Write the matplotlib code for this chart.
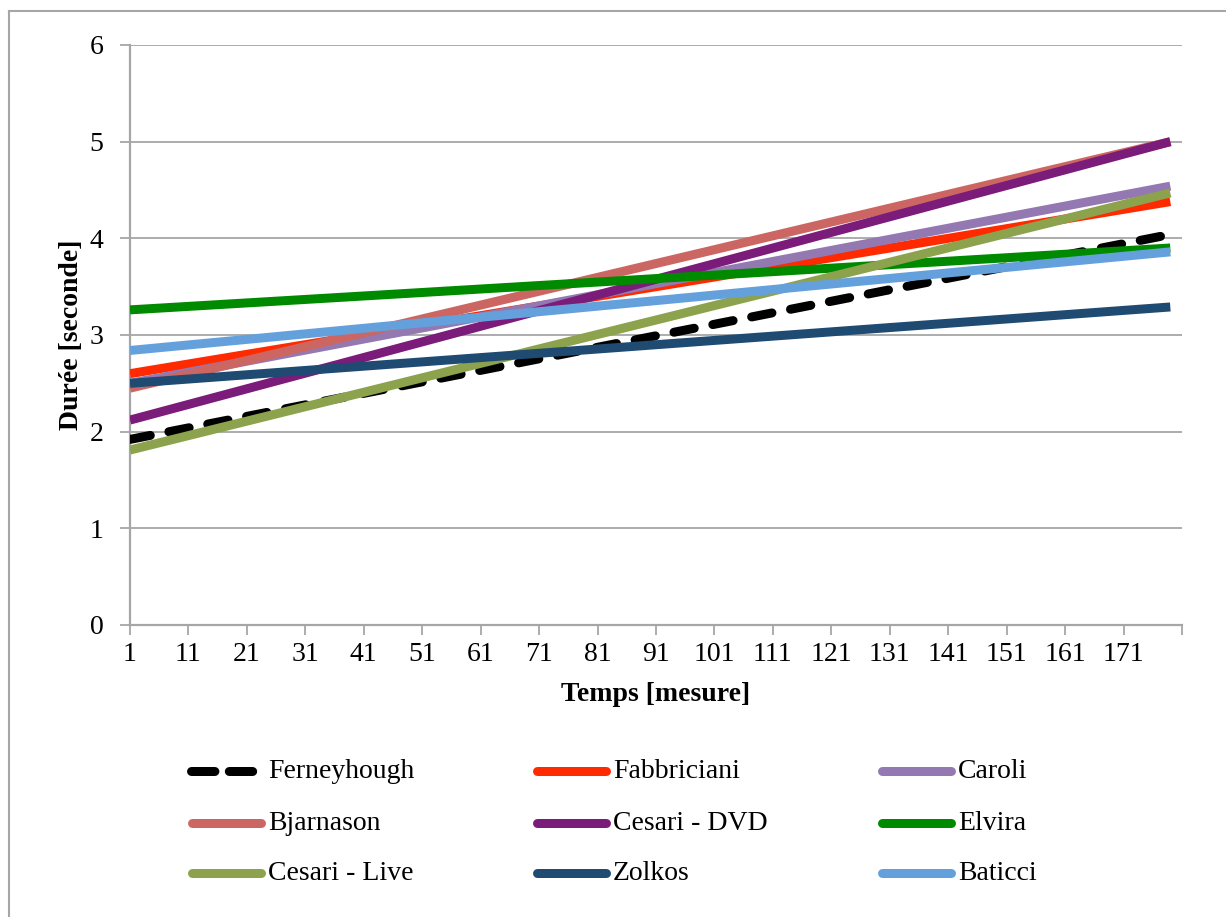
import matplotlib
matplotlib.use("Agg")
import matplotlib.pyplot as plt
from matplotlib.lines import Line2D
import numpy as np

# ---- data (linear trend lines: value at first and last measure) ----
series_names = ["Ferneyhough", "Fabbriciani", "Caroli",
                "Bjarnason", "Cesari - DVD", "Elvira",
                "Cesari - Live", "Zolkos", "Baticci"]
start_values = [1.92, 2.60, 2.50, 2.45, 2.12, 3.26, 1.81, 2.50, 2.84]
end_values   = [4.04, 4.38, 4.54, 5.00, 5.00, 3.90, 4.47, 3.29, 3.86]
series_colors = ["#000000", "#FF2A00", "#9478B2", "#CC6662", "#7B1B7A",
                 "#008A00", "#8CA24C", "#1F4A72", "#64A1DC"]
x_first, x_last = 1, 179
x_tick_labels = [str(v) for v in range(1, 172, 10)]
y_ticks = [0, 1, 2, 3, 4, 5, 6]

W, H = 1226, 917
fig = plt.figure(figsize=(W / 100, H / 100), dpi=100)
ax = fig.add_axes([130 / W, 1 - 625 / H, (1182 - 130) / W, (625 - 45) / H])

FONT = ["Liberation Serif", "DejaVu Serif"]
FS = 20
grid_c = "#A6A6A6"
lw = 9 * 72 / 100  # 9 px

for i, name in enumerate(series_names):
    xs = [x_first, x_last]
    ys = [start_values[i], end_values[i]]
    if i == 0:
        ax.plot(xs, ys, color=series_colors[i], lw=lw, linestyle=(0, (2.3, 2.1)),
                dash_capstyle="round", zorder=3 + i)
    else:
        ax.plot(xs, ys, color=series_colors[i], lw=lw, solid_capstyle="butt",
                zorder=3 + i)

ax.set_xlim(1, 181)
ax.set_ylim(0, 6)
ax.set_yticks(y_ticks)
ax.set_yticklabels([str(v) for v in y_ticks], fontsize=FS, family=FONT)
ax.set_xticks(list(range(1, 182, 10)))
ax.set_xticklabels(x_tick_labels + [""], fontsize=FS, family=FONT)
ax.yaxis.grid(True, color=grid_c, lw=1.3)
ax.set_axisbelow(True)
for s in ["top", "right"]:
    ax.spines[s].set_visible(False)
for s in ["left", "bottom"]:
    ax.spines[s].set_color(grid_c)
    ax.spines[s].set_linewidth(1.6)
ax.tick_params(axis="both", colors=grid_c, labelcolor="black", length=7, width=1.3)
ax.tick_params(axis="y", pad=12)
ax.tick_params(axis="x", pad=5)

ax.set_ylabel("Durée [seconde]", fontsize=FS, fontweight="bold", family=FONT, labelpad=4)
ax.set_xlabel("Temps [mesure]", fontsize=FS, fontweight="bold", family=FONT, labelpad=11)

# legend (3 columns)
col_x = [188, 533, 878]
row_y = [771, 823, 873]
for i, name in enumerate(series_names):
    r, c = divmod(i, 3)
    x0 = col_x[c]
    y = 1 - row_y[r] / H
    if i == 0:
        ln = Line2D([(x0 + 3) / W, (x0 + 74) / W], [y, y], transform=fig.transFigure,
                    color=series_colors[i], lw=lw, linestyle=(0, (2.6, 1.6)),
                    dash_capstyle="round")
    else:
        ln = Line2D([(x0 + 4) / W, (x0 + 73) / W], [y, y], transform=fig.transFigure,
                    color=series_colors[i], lw=lw, solid_capstyle="round")
    fig.add_artist(ln)
    fig.text((x0 + 80) / W, y, name, fontsize=FS, family=FONT, va="center", ha="left")

# chart border (top and left visible)
fig.add_artist(Line2D([9 / W, 9 / W], [1 - 11 / H, -0.1], transform=fig.transFigure,
                      color=grid_c, lw=1.5))
fig.add_artist(Line2D([9 / W, 1.1], [1 - 11 / H, 1 - 11 / H], transform=fig.transFigure,
                      color=grid_c, lw=1.5))

fig.savefig("out.png", dpi=100)
